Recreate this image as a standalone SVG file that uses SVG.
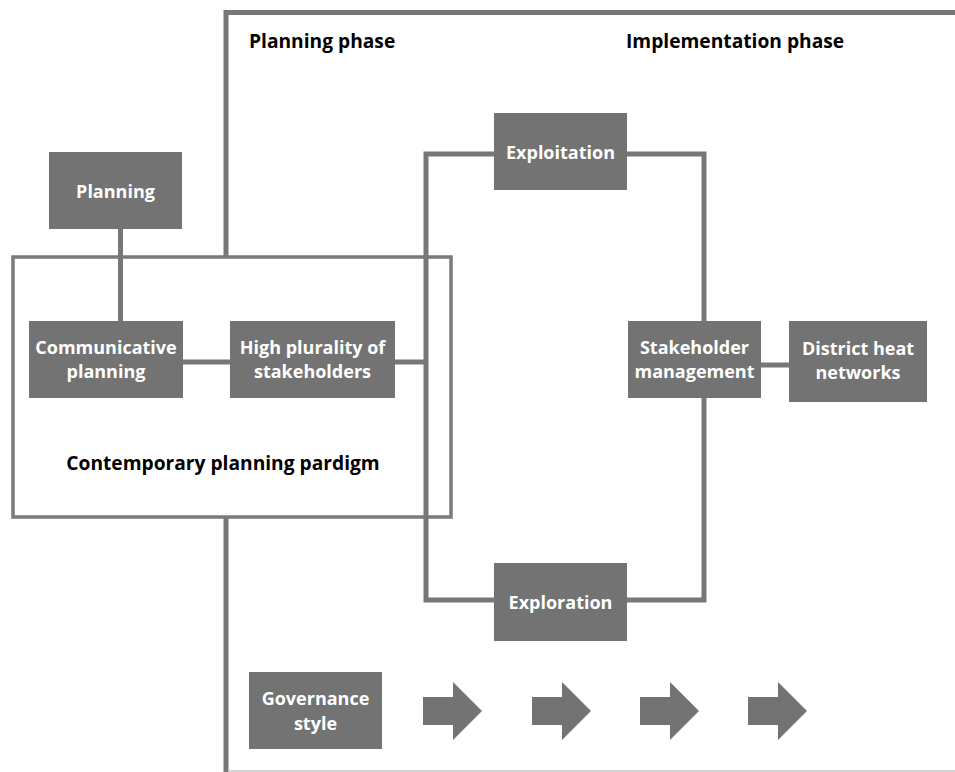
<svg xmlns="http://www.w3.org/2000/svg" width="955" height="772" viewBox="0 0 955 772">
<style>
.box{fill:#737373}
.lbl{font-family:"Open Sans","Liberation Sans",sans-serif;font-weight:700;font-size:18px;fill:#ffffff;text-anchor:middle}
.head{font-family:"Open Sans","Liberation Sans",sans-serif;font-weight:700;font-size:19.2px;fill:#000000}
.ln{fill:none;stroke:#777777;stroke-width:5}
.arrow{fill:#737373}
</style>
<rect width="955" height="772" fill="#ffffff"/>
<g id="frame">
<path class="ln" d="M226,772 V12.5 H955"/>
<line x1="228" y1="771" x2="955" y2="771" stroke="#c4c4c4" stroke-width="1.5"/>
<text class="head" x="249" y="48">Planning phase</text>
<text class="head" x="626" y="48">Implementation phase</text>
</g>
<g id="paradigm">
<rect x="13" y="257" width="438" height="260" fill="#ffffff" stroke="#7a7a7a" stroke-width="3.5"/>
<text class="head" x="223" y="470" text-anchor="middle">Contemporary planning pardigm</text>
</g>
<g id="connectors">
<line class="ln" x1="120.5" y1="229" x2="120.5" y2="321"/>
<line class="ln" x1="183" y1="362" x2="230" y2="362"/>
<line class="ln" x1="395" y1="362" x2="426" y2="362"/>
<path class="ln" d="M494,154 H426 V600 H494"/>
<path class="ln" d="M627,154 H704 V321"/>
<path class="ln" d="M704,398 V600 H627"/>
<line class="ln" x1="761" y1="365" x2="789" y2="365"/>
</g>
<g id="planning">
<rect class="box" x="49" y="152" width="133" height="77"/>
<text class="lbl" x="115.5" y="198">Planning</text>
</g>
<g id="communicative">
<rect class="box" x="29" y="321" width="154" height="77"/>
<text class="lbl" x="106" y="354">Communicative</text>
<text class="lbl" x="106" y="378">planning</text>
</g>
<g id="plurality">
<rect class="box" x="230" y="321" width="165" height="77"/>
<text class="lbl" x="312.5" y="354">High plurality of</text>
<text class="lbl" x="312.5" y="378">stakeholders</text>
</g>
<g id="exploitation">
<rect class="box" x="494" y="113" width="133" height="77"/>
<text class="lbl" x="560.5" y="159">Exploitation</text>
</g>
<g id="exploration">
<rect class="box" x="494" y="563" width="133" height="78"/>
<text class="lbl" x="560.5" y="609">Exploration</text>
</g>
<g id="stakeholder">
<rect class="box" x="628" y="321" width="133" height="77"/>
<text class="lbl" x="694.5" y="354">Stakeholder</text>
<text class="lbl" x="694.5" y="378">management</text>
</g>
<g id="district">
<rect class="box" x="789" y="321" width="138" height="81"/>
<text class="lbl" x="858" y="355">District heat</text>
<text class="lbl" x="858" y="379">networks</text>
</g>
<g id="governance">
<rect class="box" x="249" y="672" width="133" height="77"/>
<text class="lbl" x="315.5" y="705">Governance</text>
<text class="lbl" x="315.5" y="730">style</text>
</g>
<g id="arrows">
<path class="arrow" d="M423,697 H453 V682 L482,711 L453,740 V725 H423 Z"/>
<path class="arrow" d="M532,697 H562 V682 L591,711 L562,740 V725 H532 Z"/>
<path class="arrow" d="M640,697 H670 V682 L699,711 L670,740 V725 H640 Z"/>
<path class="arrow" d="M748,697 H778 V682 L807,711 L778,740 V725 H748 Z"/>
</g>
</svg>
